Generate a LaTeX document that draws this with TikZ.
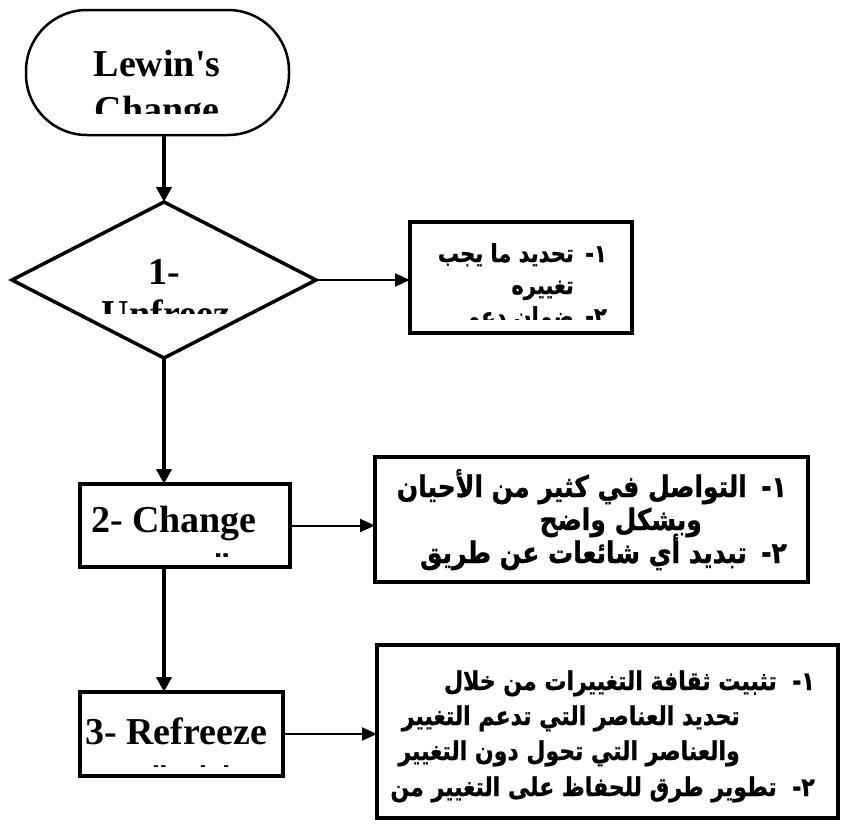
\documentclass[tikz,border=0pt]{standalone}
\usepackage{fontspec}
\usepackage{graphicx}
\newfontfamily\enfont{Liberation Serif}
\newfontfamily\arabicfont[Script=Arabic, BoldFeatures={FakeBold=1.2}]{DejaVu Sans}
\TeXXeTstate=1
\newcommand\arline[1]{\scalebox{1}[1.18]{\beginR #1\endR}}
\usetikzlibrary{arrows.meta,shapes.geometric}
\begin{document}
\begin{tikzpicture}[x=1pt,y=-1pt,
  shapebox/.style={draw, line width=3.5pt, inner sep=0pt, outer sep=0pt},
  entxt/.style={font=\enfont\bfseries\fontsize{38}{38}\selectfont, inner sep=0pt, anchor=base},
  artxt/.style={font=\arabicfont\bfseries\fontsize{#1}{#1}\selectfont, inner sep=0pt, anchor=base east},
  artxt/.default=22,
  varrow/.style={line width=4pt, -{Triangle[length=15pt,width=15pt]}},
  harrow/.style={line width=2pt, -{Triangle[length=15pt,width=13pt]}}]
\useasboundingbox (0,0) rectangle (854,827);

% shapes
\node[shapebox, line width=2.5pt, rounded corners=61pt, minimum width=263pt, minimum height=125pt] (term) at (157.5,72.5) {};
\node[shapebox, diamond, minimum width=304pt, minimum height=156pt] (dia) at (164,280) {};
\node[shapebox, minimum width=222pt, minimum height=111pt] (b1) at (521,277.5) {};
\node[shapebox, minimum width=210pt, minimum height=83pt] (chg) at (185,525.5) {};
\node[shapebox, minimum width=433pt, minimum height=125pt] (b2) at (591.5,519.5) {};
\node[shapebox, minimum width=203pt, minimum height=84pt] (ref) at (181.5,734) {};
\node[shapebox, minimum width=461pt, minimum height=173pt] (b3) at (607.5,731.5) {};

% connectors
\draw[varrow] (dia.north |- term.south) -- (dia.north);
\draw[varrow] (dia.south) -- (dia.south |- chg.north);
\draw[varrow] (dia.south |- chg.south) -- (dia.south |- ref.north);
\draw[harrow] (dia.east) -- (dia.east -| b1.west);
\draw[harrow] (chg.east) -- (chg.east -| b2.west);
\draw[harrow] (ref.east) -- (ref.east -| b3.west);

% English texts (clipped like the original text boxes)
\begin{scope}
\clip (26,10) rectangle (289,113);
\node[entxt] (t1) at (157,76) {Lewin's};
\node[entxt] (t2) at (157,122) {Change};
\end{scope}
\begin{scope}
\clip (60,230) rectangle (270,313);
\node[entxt] (d1) at (164,284) {1-};
\node[entxt] (d2) at (166,326) {Unfreez};
\end{scope}
\begin{scope}
\clip (82,486) rectangle (288,556);
\node[entxt] (c1) at (174,532) {2- Change};
\node[artxt, anchor=base] (c2) at (195,570) {\beginR التغيير\endR};
\end{scope}
\begin{scope}
\clip (82,694) rectangle (281,766);
\node[entxt] (r1) at (176,744) {3- Refreeze};
\node[artxt, anchor=base] (r2) at (160,782) {\beginR إعادة التجميد\endR};
\end{scope}

% box 1
\begin{scope}
\clip (412,224) rectangle (630,319);
\node[artxt=21] (a1n) at (607,262) {\arline{١-}};
\node[artxt=21] (a1t) at (574,262) {\arline{تحديد ما يجب}};
\node[artxt=21] (a1u) at (574,294) {\arline{تغييره}};
\node[artxt=21] (a2n) at (607,325) {\arline{٢-}};
\node[artxt=21] (a2t) at (574,325) {\arline{ضمان دعم}};
\end{scope}

% box 2
\node[artxt=25] (b1n) at (787,497) {\arline{١-}};
\node[artxt=25] (b1t) at (747,497) {\arline{التواصل في كثير من الأحيان}};
\node[artxt=25] (b1u) at (702,530) {\arline{وبشكل واضح}};
\node[artxt=25] (b2n) at (787,563) {\arline{٢-}};
\node[artxt=25] (b2t) at (747,563) {\arline{تبديد أي شائعات عن طريق}};

% box 3
\node[artxt=22] (c1n) at (815,690) {\arline{١-}};
\node[artxt=22] (c1t) at (777,690) {\arline{تثبيت ثقافة التغييرات من خلال}};
\node[artxt=22] (c1u) at (740,725) {\arline{تحديد العناصر التي تدعم التغيير}};
\node[artxt=22] (c1v) at (740,760) {\arline{والعناصر التي تحول دون التغيير}};
\node[artxt=22] (c2n) at (815,796) {\arline{٢-}};
\node[artxt=22] (c2t) at (777,796) {\arline{تطوير طرق للحفاظ على التغيير من}};
\end{tikzpicture}
\end{document}
